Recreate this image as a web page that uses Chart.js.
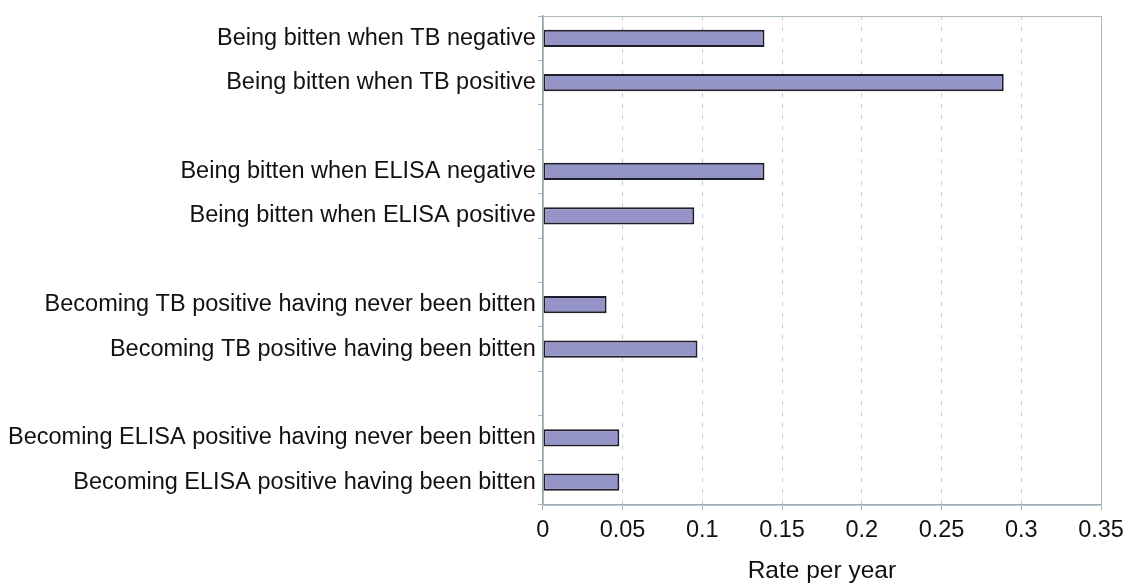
<!DOCTYPE html>
<html lang="en">
    <head>
        <meta charset="utf-8" />
        <title>Rate per year</title>
        <style>
            html, body { margin: 0; padding: 0; background: #ffffff; }
            #wrap { width: 1133px; height: 586px; position: relative; }
        </style>
    </head>
    <body>
        <div id="wrap">
            <canvas id="rateChart"></canvas>
        </div>
        <script src="https://cdn.jsdelivr.net/npm/chart.js"></script>
        <script>
            // categories (empty strings are the gaps between groups)
            const categories = [
                'Being bitten when TB negative',
                'Being bitten when TB positive',
                '',
                'Being bitten when ELISA negative',
                'Being bitten when ELISA positive',
                '',
                'Becoming TB positive having never been bitten',
                'Becoming TB positive having been bitten',
                '',
                'Becoming ELISA positive having never been bitten',
                'Becoming ELISA positive having been bitten'
            ];
            const rates = [0.139, 0.289, null, 0.139, 0.095, null, 0.04, 0.097, null, 0.048, 0.048];
            const xTicks = [0, 0.05, 0.1, 0.15, 0.2, 0.25, 0.3, 0.35];

            // draws the thin frame round the plot area
            const frame = {
                id: 'frame',
                afterDraw(chart) {
                    const a = chart.chartArea;
                    const c = chart.ctx;
                    c.save();
                    c.strokeStyle = '#a9b6bd';
                    c.lineWidth = 1;
                    c.strokeRect(a.left + 0.5, a.top + 0.5, a.right - a.left, a.bottom - a.top);
                    c.restore();
                }
            };

            const ctx = document.getElementById('rateChart');
            new Chart(ctx, {
                type: 'bar',
                data: {
                    labels: categories,
                    datasets: [{
                        data: rates,
                        backgroundColor: '#9494c8',
                        borderColor: '#1e1e2a',
                        borderWidth: 2,
                        borderSkipped: false,
                        barPercentage: 0.39,
                        categoryPercentage: 1
                    }]
                },
                options: {
                    indexAxis: 'y',
                    responsive: true,
                    maintainAspectRatio: false,
                    animation: false,
                    layout: { padding: { top: 10, right: 32, bottom: 0, left: 6 } },
                    plugins: {
                        legend: { display: false },
                        tooltip: { enabled: false }
                    },
                    scales: {
                        x: {
                            min: 0,
                            max: 0.35,
                            afterBuildTicks: function(axis) {
                                axis.ticks = xTicks.map(v => ({ value: v }));
                            },
                            ticks: {
                                color: '#111111',
                                font: { family: 'Liberation Sans', size: 23.5 },
                                padding: 6,
                                callback: v => String(+v.toFixed(2))
                            },
                            grid: {
                                color: '#c3ccd3',
                                tickColor: '#a9b6bd',
                                tickBorderDash: [],
                                tickLength: 6
                            },
                            border: { color: '#8f9ea6', width: 1.5, dash: [4, 7] },
                            title: {
                                display: true,
                                text: 'Rate per year',
                                color: '#111111',
                                font: { family: 'Liberation Sans', size: 24.5 },
                                padding: { top: 6, bottom: 0 }
                            }
                        },
                        y: {
                            ticks: {
                                color: '#111111',
                                font: { family: 'Liberation Sans', size: 23.5 },
                                padding: 2,
                                autoSkip: false
                            },
                            grid: {
                                offset: true,
                                drawOnChartArea: false,
                                color: '#a9b6bd',
                                tickLength: 5
                            },
                            border: { color: '#8f9ea6', width: 1.5 }
                        }
                    }
                },
                plugins: [frame]
            });
        </script>
    </body>
</html>
